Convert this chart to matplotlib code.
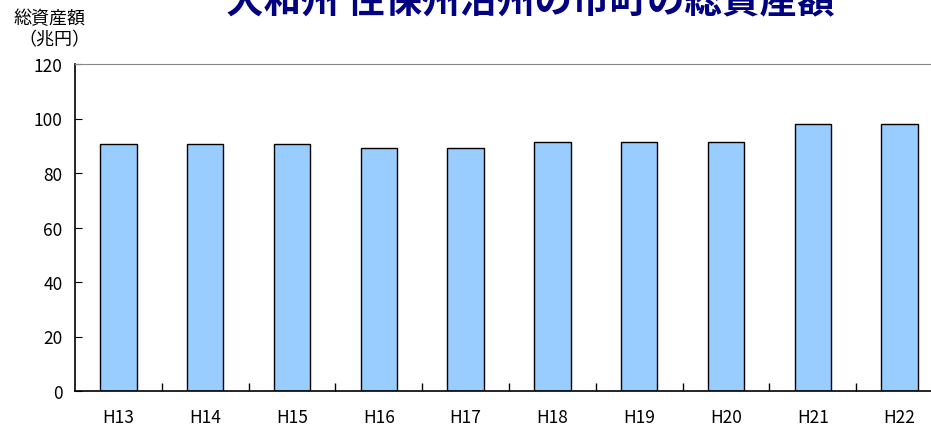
import matplotlib
matplotlib.use("Agg")
import matplotlib.pyplot as plt
from matplotlib.ticker import MultipleLocator

plt.rcParams['font.family'] = ['Noto Sans CJK JP', 'DejaVu Sans']

categories = ["H13", "H14", "H15", "H16", "H17", "H18", "H19", "H20", "H21", "H22"]
values = [90.5, 90.5, 90.5, 89.2, 89.2, 91.4, 91.4, 91.4, 98.0, 98.0]
title = "大和州 住保州沿州の市町の総資産額"
ylabel_lines = ["総資産額", "（兆円）"]

W, H = 931, 427
fig = plt.figure(figsize=(W/100, H/100), dpi=100)
left, right, top, bottom = 75, 943, 65, 392
ax = fig.add_axes([left/W, 1-bottom/H, (right-left)/W, (bottom-top)/H])

x = list(range(len(categories)))
ax.bar(x, values, width=0.42, color="#99CCFF", edgecolor="black", linewidth=1.0)
ax.set_xlim(-0.5, len(categories)-0.5)
ax.set_ylim(0, 120)
ax.yaxis.set_major_locator(MultipleLocator(20))
ax.tick_params(axis='y', direction='in', length=5, labelsize=12.5, pad=9)
ax.set_xticks(x)
ax.set_xticklabels(categories)
ax.tick_params(axis='x', which='major', length=0, labelsize=12.5, pad=12)
ax.set_xticks([i+0.5 for i in x[:-1]], minor=True)
ax.tick_params(axis='x', which='minor', direction='in', length=6, width=1)
for s in ['left', 'bottom']:
    ax.spines[s].set_linewidth(1.2)
ax.spines['top'].set_color('#888888')
ax.spines['right'].set_visible(False)

fig.text(530/W, 1-13/H, title, ha='center', va='baseline', fontsize=27,
         fontweight='bold', color='#000080')
fig.text(13/W, 1-19/H, ylabel_lines[0], ha='left', va='center', fontsize=13)
fig.text(18/W, 1-40/H, ylabel_lines[1], ha='left', va='center', fontsize=13)

fig.savefig("out.png", dpi=100)
